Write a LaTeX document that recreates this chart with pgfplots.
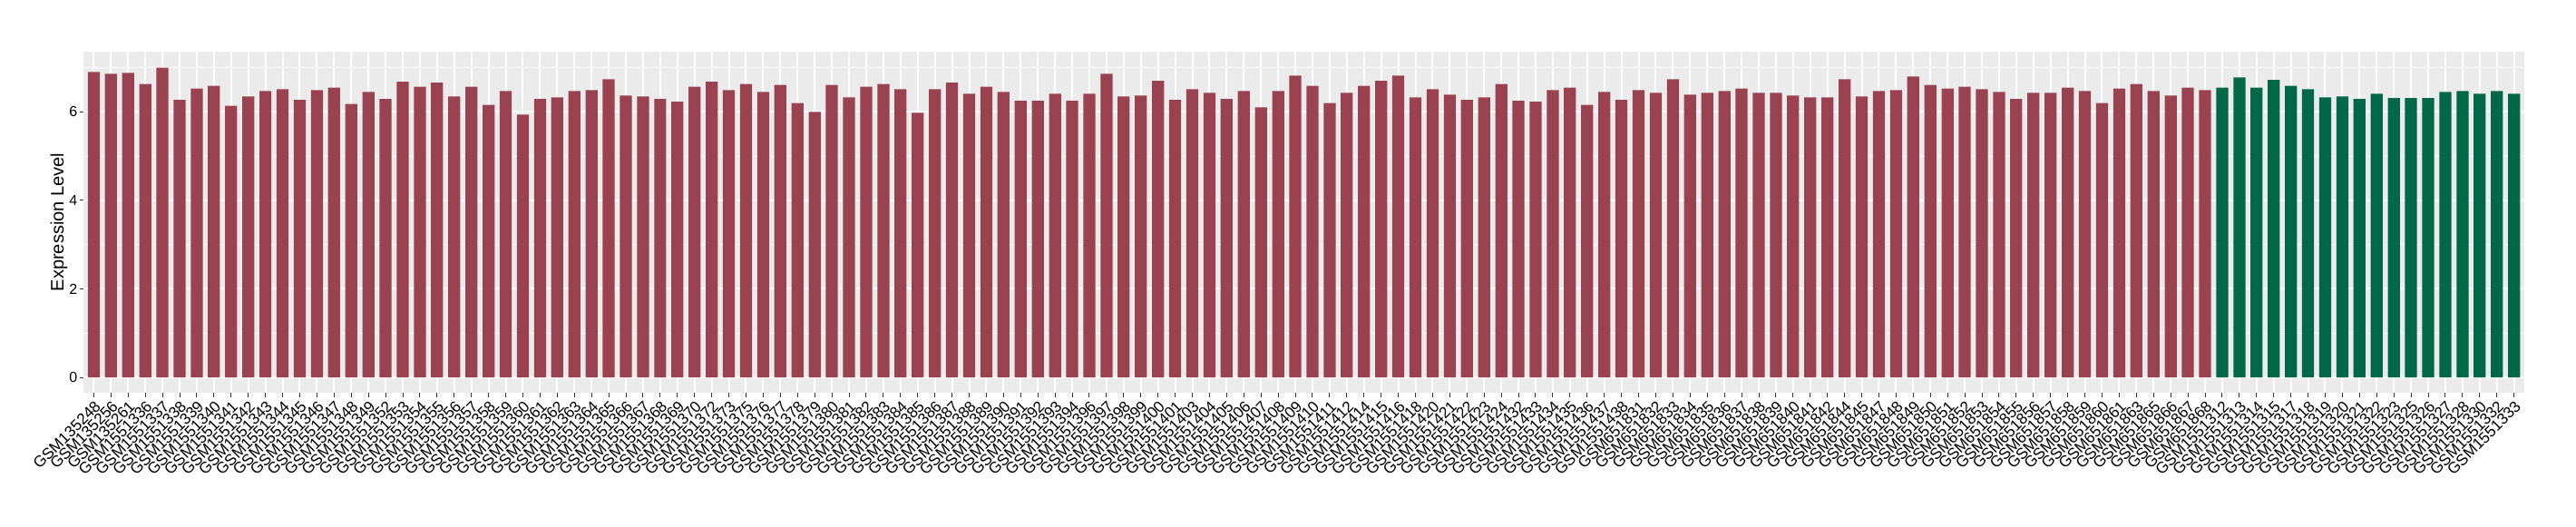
\documentclass[border=0pt]{standalone}
\usepackage{pgfplots}
\pgfplotsset{compat=1.18}
\usepackage{pgfplotstable}
\usepackage{fontspec}
\setmainfont{Liberation Sans}

\definecolor{barred}{HTML}{9B4251}
\definecolor{bargreen}{HTML}{006846}
\definecolor{panelgrey}{HTML}{EBEBEB}
\definecolor{tickgrey}{HTML}{333333}

% idx 0-123 first group, 124-141 second group
\pgfplotstableread{
idx label val
0 GSM135248 6.90
1 GSM135256 6.86
2 GSM135261 6.88
3 GSM1551336 6.63
4 GSM1551337 7.00
5 GSM1551338 6.27
6 GSM1551339 6.53
7 GSM1551340 6.59
8 GSM1551341 6.14
9 GSM1551342 6.35
10 GSM1551343 6.47
11 GSM1551344 6.51
12 GSM1551345 6.27
13 GSM1551346 6.49
14 GSM1551347 6.55
15 GSM1551348 6.18
16 GSM1551349 6.45
17 GSM1551352 6.29
18 GSM1551353 6.68
19 GSM1551354 6.57
20 GSM1551355 6.66
21 GSM1551356 6.35
22 GSM1551357 6.57
23 GSM1551358 6.16
24 GSM1551359 6.47
25 GSM1551360 5.94
26 GSM1551361 6.29
27 GSM1551362 6.33
28 GSM1551363 6.47
29 GSM1551364 6.49
30 GSM1551365 6.74
31 GSM1551366 6.37
32 GSM1551367 6.35
33 GSM1551368 6.29
34 GSM1551369 6.23
35 GSM1551370 6.57
36 GSM1551372 6.68
37 GSM1551373 6.49
38 GSM1551375 6.63
39 GSM1551376 6.45
40 GSM1551377 6.61
41 GSM1551378 6.20
42 GSM1551379 6.00
43 GSM1551380 6.61
44 GSM1551381 6.33
45 GSM1551382 6.57
46 GSM1551383 6.63
47 GSM1551384 6.51
48 GSM1551385 5.98
49 GSM1551386 6.51
50 GSM1551387 6.66
51 GSM1551388 6.41
52 GSM1551389 6.57
53 GSM1551390 6.45
54 GSM1551391 6.25
55 GSM1551392 6.25
56 GSM1551393 6.41
57 GSM1551394 6.25
58 GSM1551396 6.41
59 GSM1551397 6.86
60 GSM1551398 6.35
61 GSM1551399 6.37
62 GSM1551400 6.70
63 GSM1551401 6.27
64 GSM1551403 6.51
65 GSM1551404 6.43
66 GSM1551405 6.29
67 GSM1551406 6.47
68 GSM1551407 6.10
69 GSM1551408 6.47
70 GSM1551409 6.82
71 GSM1551410 6.59
72 GSM1551411 6.20
73 GSM1551412 6.43
74 GSM1551414 6.59
75 GSM1551415 6.70
76 GSM1551416 6.82
77 GSM1551418 6.33
78 GSM1551420 6.51
79 GSM1551421 6.39
80 GSM1551422 6.27
81 GSM1551423 6.33
82 GSM1551424 6.63
83 GSM1551432 6.25
84 GSM1551433 6.23
85 GSM1551434 6.49
86 GSM1551435 6.55
87 GSM1551436 6.16
88 GSM1551437 6.45
89 GSM1551438 6.27
90 GSM651831 6.49
91 GSM651832 6.43
92 GSM651833 6.74
93 GSM651834 6.39
94 GSM651835 6.43
95 GSM651836 6.47
96 GSM651837 6.53
97 GSM651838 6.43
98 GSM651839 6.43
99 GSM651840 6.37
100 GSM651841 6.33
101 GSM651842 6.33
102 GSM651844 6.74
103 GSM651845 6.35
104 GSM651847 6.47
105 GSM651848 6.49
106 GSM651849 6.80
107 GSM651850 6.61
108 GSM651851 6.53
109 GSM651852 6.57
110 GSM651853 6.51
111 GSM651854 6.45
112 GSM651855 6.29
113 GSM651856 6.43
114 GSM651857 6.43
115 GSM651858 6.55
116 GSM651859 6.47
117 GSM651860 6.20
118 GSM651861 6.53
119 GSM651863 6.63
120 GSM651865 6.47
121 GSM651866 6.37
122 GSM651867 6.55
123 GSM651868 6.49
124 GSM1551312 6.55
125 GSM1551313 6.78
126 GSM1551314 6.55
127 GSM1551315 6.72
128 GSM1551317 6.59
129 GSM1551318 6.51
130 GSM1551319 6.33
131 GSM1551320 6.35
132 GSM1551321 6.29
133 GSM1551322 6.41
134 GSM1551323 6.31
135 GSM1551325 6.31
136 GSM1551326 6.31
137 GSM1551327 6.45
138 GSM1551328 6.47
139 GSM1551330 6.41
140 GSM1551332 6.47
141 GSM1551333 6.41
}\expr

\begin{document}
\begin{tikzpicture}
\begin{axis}[
  name=ax,
  scale only axis, width=1345pt, height=188pt,
  xmin=-0.6, xmax=141.6, ymin=-0.35, ymax=7.36,
  axis line style={draw=none},
  axis background/.style={fill=panelgrey},
  xtick={0,...,141},
  xticklabels from table={\expr}{label},
  x tick label style={rotate=45, anchor=north east, inner sep=1pt,
    font=\fontsize{8.6}{9}\selectfont},
  ytick={0,2,4,6}, minor ytick={1,3,5,7},
  y tick label style={font=\fontsize{8}{9}\selectfont, inner sep=1pt},
  /pgf/number format/assume math mode=true,
  xmajorgrids, ymajorgrids, yminorgrids,
  major grid style={white, line width=1pt},
  minor grid style={white, line width=0.5pt},
  tick pos=left, tick align=outside,
  major tick length=2.2pt, minor tick length=0pt,
  tick style={tickgrey, line width=0.5pt},
  ylabel={Expression Level},
  every axis y label/.style={at={(rel axis cs:0,0.5)}, xshift=-13.5pt,
    rotate=90, anchor=center, font=\fontsize{10}{12}\selectfont},
]
\addplot[ybar, bar width=0.7, bar shift=0pt, fill=barred, draw=none,
  restrict x to domain=0:123] table[x=idx, y=val] {\expr};
\addplot[ybar, bar width=0.7, bar shift=0pt, fill=bargreen, draw=none,
  restrict x to domain=124:141] table[x=idx, y=val] {\expr};
\end{axis}
\pgfresetboundingbox
\path ([xshift=-46pt,yshift=-73.5pt]ax.south west) rectangle ([xshift=28.5pt,yshift=28.5pt]ax.north east);
\end{tikzpicture}
\end{document}
